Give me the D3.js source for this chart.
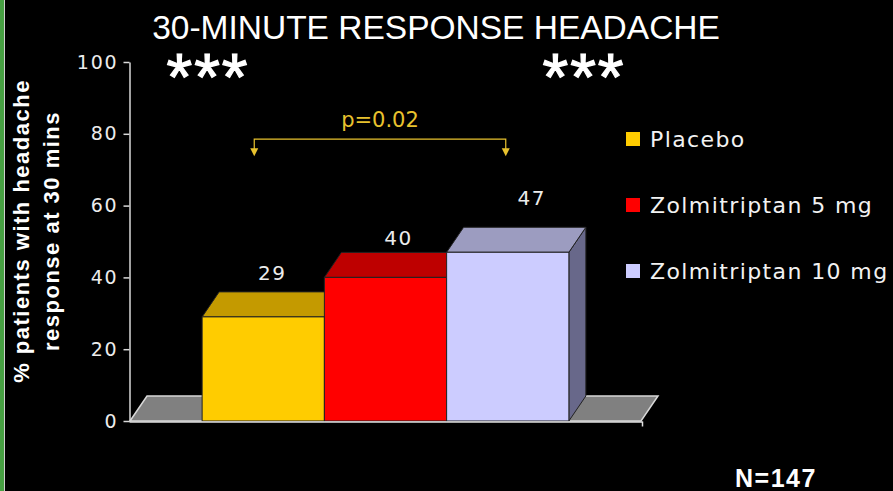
<!DOCTYPE html>
<html>
<head>
<meta charset="utf-8">
<script src="https://cdn.jsdelivr.net/npm/d3@7"></script>
<style>
  html, body { margin: 0; padding: 0; background: #000; }
  svg { display: block; }
</style>
</head>
<body>
<script>
'use strict';

// chart data
const groups = ["Placebo", "Zolmitriptan 5 mg", "Zolmitriptan 10 mg"];
const responseRates = [29, 40, 47];
const yTicks = [0, 20, 40, 60, 80, 100];
const pLabel = "p=0.02";
const sampleLabel = "N=147";

// colours for front, top, side faces
const frontColors = ["#FFCC00", "#FF0000", "#CCCCFF"];
const topColors = ["#C49A00", "#BE0000", "#9C9CC0"];
const sideColors = ["#8a6f00", "#880000", "#68688A"];

// small nudges for the value labels (dx, dy above the top face)
const labelShift = [[9, 37], [13, 32], [24, 47]];

const width = 893, height = 491;
const depthX = 17, depthY = 25;

const svg = d3.select('body')
  .append('svg')
  .attr('width', width)
  .attr('height', height);

svg.append('rect')
  .attr('width', width).attr('height', height)
  .attr('fill', '#000');

// green strip at left edge of the slide
svg.append('rect').attr('x', 0).attr('y', 0).attr('width', 4).attr('height', height).attr('fill', '#47A043');
svg.append('rect').attr('x', 4).attr('y', 0).attr('width', 1).attr('height', height).attr('fill', '#cfcfcf');

// scales
const yScale = d3.scaleLinear().domain([0, 100]).range([421, 62]);
const xScale = d3.scaleBand()
  .domain(groups)
  .range([130, 641])
  .paddingInner(0)
  .paddingOuter(0.59);

const x0 = 130, x1 = 641, y0 = yScale(0);

// floor
svg.append('polygon')
  .attr('points', [[x0, y0], [x0 + depthX, y0 - depthY], [x1 + depthX, y0 - depthY], [x1, y0]].join(' '))
  .attr('fill', '#808080')
  .attr('stroke', '#d8d8d8')
  .attr('stroke-width', 1.5);

// bars as boxes
const bw = xScale.bandwidth();
const bars = svg.selectAll('.bar')
  .data(groups)
  .enter()
  .append('g')
  .attr('class', 'bar');

bars.append('polygon') // side face
  .attr('points', (d, i) => {
    let xr = xScale(d) + bw, yt = yScale(responseRates[i]);
    return [[xr, yt], [xr + depthX, yt - depthY], [xr + depthX, y0 - depthY], [xr, y0]].join(' ');
  })
  .attr('fill', (d, i) => sideColors[i])
  .attr('stroke', '#222').attr('stroke-width', 1);

bars.append('polygon') // top face
  .attr('points', (d, i) => {
    let xl = xScale(d), yt = yScale(responseRates[i]);
    return [[xl, yt], [xl + depthX, yt - depthY], [xl + bw + depthX, yt - depthY], [xl + bw, yt]].join(' ');
  })
  .attr('fill', (d, i) => topColors[i])
  .attr('stroke', '#222').attr('stroke-width', 1);

bars.append('rect') // front face
  .attr('x', (d) => xScale(d))
  .attr('y', (d, i) => yScale(responseRates[i]))
  .attr('width', bw)
  .attr('height', (d, i) => y0 - yScale(responseRates[i]))
  .attr('fill', (d, i) => frontColors[i])
  .attr('stroke', '#222').attr('stroke-width', 1);

// value labels
svg.selectAll('.val')
  .data(groups)
  .enter()
  .append('text')
  .attr('class', 'val')
  .attr('x', (d, i) => xScale(d) + bw / 2 + labelShift[i][0])
  .attr('y', (d, i) => yScale(responseRates[i]) - labelShift[i][1])
  .attr('text-anchor', 'middle')
  .style('font-family', 'DejaVu Sans')
  .style('font-size', '20px')
  .style('letter-spacing', '1.5px')
  .attr('fill', '#ececec')
  .text((d, i) => responseRates[i]);

// y axis
const yAxis = d3.axisLeft(yScale).tickValues(yTicks).tickSize(6).tickPadding(5).tickSizeOuter(0);
const gy = svg.append('g')
  .attr('transform', 'translate(129.5, 0)')
  .call(yAxis);
gy.select('.domain').attr('stroke', '#d9d9d9').attr('stroke-width', 1.5);
gy.selectAll('.tick line').attr('stroke', '#d9d9d9').attr('stroke-width', 1.5);
gy.selectAll('.tick text')
  .attr('fill', '#ececec')
  .style('font-family', 'DejaVu Sans')
  .style('font-size', '19px')
  .style('letter-spacing', '1.8px');

// x axis (just a base line with end tick)
const xLine = d3.scaleLinear().domain([0, 1]).range([129, 642]);
const gx = svg.append('g')
  .attr('transform', 'translate(0,' + (y0 + 0.5) + ')')
  .call(d3.axisBottom(xLine).tickValues([1]).tickSize(5).tickSizeOuter(0).tickFormat(''));
gx.select('.domain').attr('stroke', '#e0e0e0').attr('stroke-width', 1.5);
gx.selectAll('.tick line').attr('stroke', '#e0e0e0').attr('stroke-width', 1.5);

// y axis title
const yTitle = svg.append('text')
  .attr('transform', 'translate(29, 231) rotate(-90)')
  .attr('text-anchor', 'middle')
  .attr('fill', '#fff')
  .style('font-family', 'Liberation Sans')
  .style('font-weight', 'bold')
  .style('font-size', '22px')
  .style('letter-spacing', '1.5px');
yTitle.append('tspan').attr('x', 0).attr('y', 0).text('% patients with headache');
yTitle.append('tspan').attr('x', 0).attr('y', 30).text('response at 30 mins');

// chart title
svg.append('text')
  .attr('x', 436)
  .attr('y', 39)
  .attr('text-anchor', 'middle')
  .attr('fill', '#fff')
  .style('font-family', 'Liberation Sans')
  .style('font-size', '33.5px')
  .text('30-MINUTE RESPONSE HEADACHE');

// significance stars
svg.selectAll('.stars')
  .data([208, 584])
  .enter()
  .append('text')
  .attr('class', 'stars')
  .attr('x', (d) => d)
  .attr('y', 100)
  .attr('text-anchor', 'middle')
  .attr('fill', '#fff')
  .attr('stroke', '#fff')
  .attr('stroke-width', 1.2)
  .style('font-family', 'Liberation Sans')
  .style('font-size', '66px')
  .style('letter-spacing', '2px')
  .text('***');

// p-value bracket between placebo and 10 mg
const pCol = '#E8C22E';
const bxL = xScale(groups[0]) + bw / 2 - 9, bxR = xScale(groups[2]) + bw / 2 - 2;
const by = yScale(78.5);
svg.append('path')
  .attr('d', `M${bxL},${by + 11}V${by}H${bxR}V${by + 11}`)
  .attr('fill', 'none')
  .attr('stroke', pCol)
  .attr('stroke-width', 1.2);
svg.selectAll('.arrow')
  .data([bxL, bxR])
  .enter()
  .append('path')
  .attr('d', (d) => `M${d - 4},${by + 9}L${d + 4},${by + 9}L${d},${by + 17}Z`)
  .attr('fill', pCol);
svg.append('text')
  .attr('x', (bxL + bxR) / 2)
  .attr('y', by - 12)
  .attr('text-anchor', 'middle')
  .attr('fill', pCol)
  .style('font-family', 'DejaVu Sans')
  .style('font-size', '21px')
  .text(pLabel);

// legend
const legend = svg.selectAll('.legend')
  .data(groups)
  .enter()
  .append('g')
  .attr('class', 'legend')
  .attr('transform', (d, i) => 'translate(626,' + (132 + i * 66) + ')');
legend.append('rect')
  .attr('width', 14).attr('height', 14)
  .attr('fill', (d, i) => frontColors[i]);
legend.append('text')
  .attr('x', 24)
  .attr('y', 15)
  .attr('fill', '#f2f2f2')
  .style('font-family', 'DejaVu Sans')
  .style('font-size', '22px')
  .style('letter-spacing', '1.4px')
  .text((d) => d);

// sample size
svg.append('text')
  .attr('x', 735)
  .attr('y', 487)
  .attr('fill', '#fff')
  .style('font-family', 'Liberation Sans')
  .style('font-weight', 'bold')
  .style('font-size', '25px')
  .style('letter-spacing', '1.5px')
  .text(sampleLabel);
</script>
</body>
</html>
